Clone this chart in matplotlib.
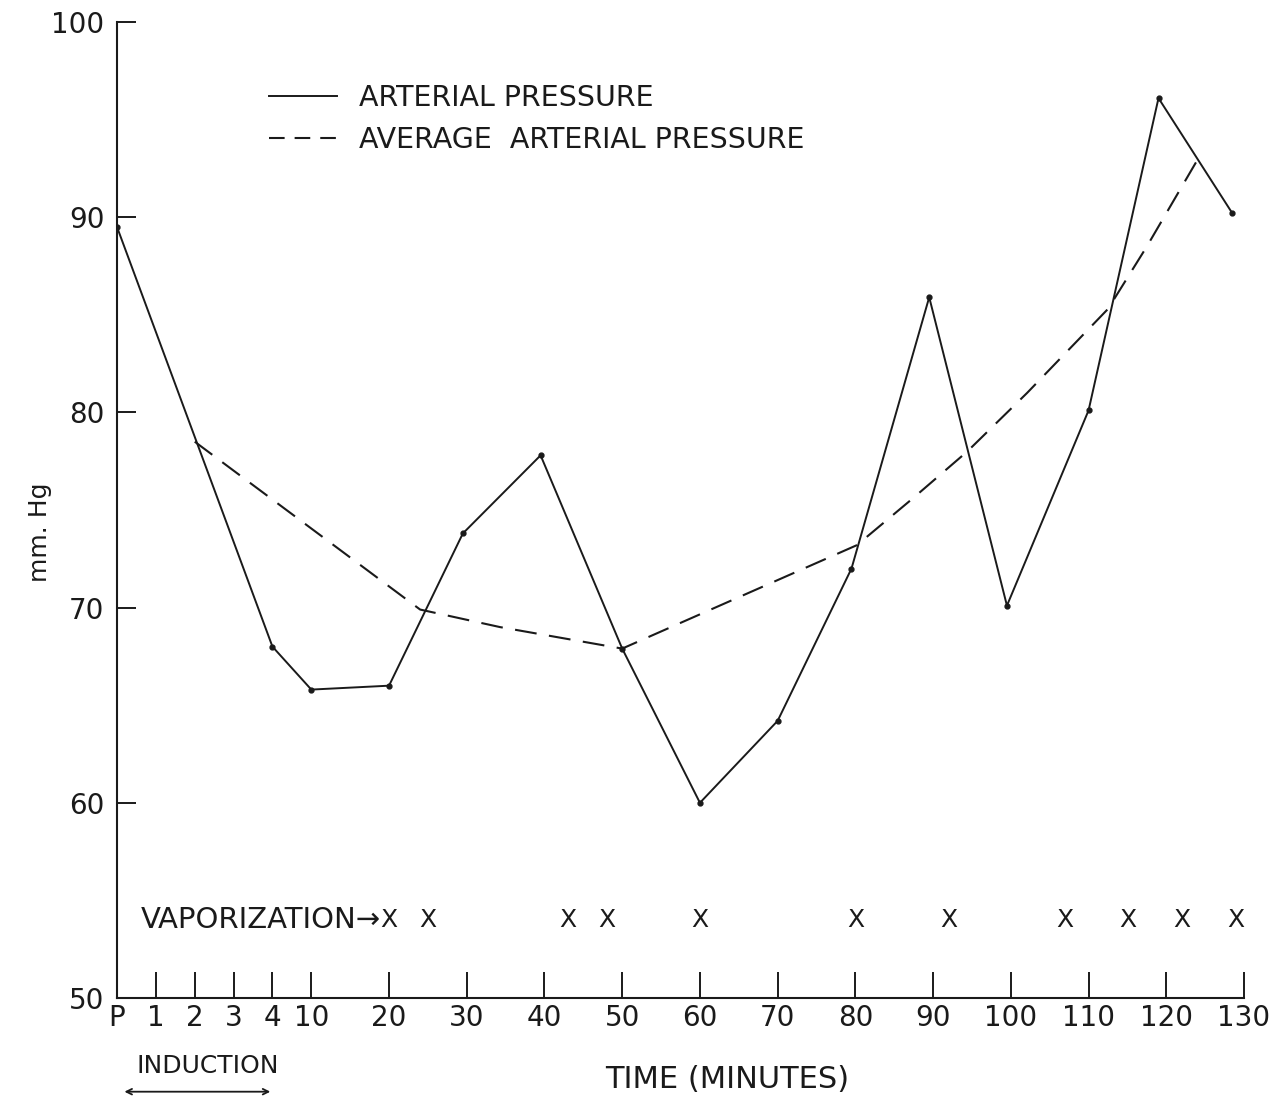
import numpy as np
import matplotlib
matplotlib.use('Agg')
from matplotlib import pyplot as plt

# x axis: P, induction minutes 1-4, then every 10 minutes (uneven spacing)
tick_minutes = [0, 1, 2, 3, 4, 10, 20, 30, 40, 50, 60, 70, 80, 90, 100, 110, 120, 130]
tick_labels = ['P', '1', '2', '3', '4', '10', '20', '30', '40', '50', '60', '70',
               '80', '90', '100', '110', '120', '130']
y_ticks = [50, 60, 70, 80, 90, 100]

# arterial pressure (mm Hg)
pressure_minutes = [0, 4, 10, 20, 29.5, 39.5, 50, 60, 70, 79.5, 89.5, 99.5, 110, 119, 128.5]
pressure = [89.5, 68.0, 65.8, 66.0, 73.8, 77.8, 67.9, 60.0, 64.2, 72.0, 85.9, 70.1, 80.1, 96.1, 90.2]

# average arterial pressure curve
avg_minutes = [2, 24, 34.3, 50, 80.2, 87.4, 94.4, 102.1, 112.5, 117.5, 124.1]
avg_pressure = [78.5, 69.9, 69.0, 67.9, 73.2, 75.6, 78.0, 81.0, 85.3, 88.5, 93.0]

# vaporization marks
vapor_minutes = [20, 25, 43, 48, 60, 80, 92, 107, 115, 122, 129]
vapor_level = 54

tick_pos = [0, 1, 2, 3, 4] + [5 + (m - 10) / 5 for m in tick_minutes[5:]]


def to_pos(m):
    return np.interp(m, tick_minutes, tick_pos)


plt.rcParams['font.family'] = ['DejaVu Sans']
ink = '#1a1a1a'
W, H = 1281, 1103
fig = plt.figure(figsize=(W / 100, H / 100), dpi=100)
ax = fig.add_axes([117 / W, 1 - 998 / H, (1244 - 117) / W, (998 - 22) / H])

ax.plot(to_pos(pressure_minutes), pressure, color=ink, lw=1.4, label='ARTERIAL PRESSURE')
ax.plot(to_pos(pressure_minutes), pressure, 'o', color=ink, ms=3.5)
ax.plot(to_pos(avg_minutes), avg_pressure, color=ink, lw=1.5,
        dashes=(10.5, 6), label='AVERAGE  ARTERIAL PRESSURE')

for m in vapor_minutes:
    ax.text(to_pos(m), vapor_level, 'X', ha='center', va='center', fontsize=18, color=ink)
ax.annotate('VAPORIZATION\u2192', xy=(to_pos(vapor_minutes[0]), vapor_level),
            xytext=(-6, 0), textcoords='offset points', ha='right', va='center',
            fontsize=21, color=ink)

ax.set_xlim(0, 29)
ax.set_ylim(50, 100)
ax.set_xticks(tick_pos)
ax.set_xticklabels(tick_labels)
ax.set_yticks(y_ticks)
ax.tick_params(axis='x', direction='in', length=19, width=1.4, pad=4,
               labelsize=20, colors=ink)
ax.tick_params(axis='y', direction='in', length=14, width=1.4, pad=9,
               labelsize=20, colors=ink)
for s in ['top', 'right']:
    ax.spines[s].set_visible(False)
for s in ['left', 'bottom']:
    ax.spines[s].set_linewidth(1.5)
    ax.spines[s].set_color(ink)

leg = ax.legend(loc='upper left', bbox_to_anchor=((269 - 117) / 1127, 1 - (84 - 22) / 976),
                frameon=False, fontsize=20.5, handlelength=2.4, handletextpad=0.75,
                labelspacing=0.5, borderpad=0, borderaxespad=0)
for t in leg.get_texts():
    t.set_color(ink)
leg.get_lines()[1].set_dashes((7.5, 4.8))

fig.text(40 / W, 1 - 532 / H, 'mm. Hg', rotation=90, ha='center', va='center', fontsize=18, color=ink)
fig.text(727 / W, 1 - 1080 / H, 'TIME (MINUTES)', ha='center', va='center', fontsize=22, color=ink)
fig.text(208 / W, 1 - 1066 / H, 'INDUCTION', ha='center', va='center', fontsize=18, color=ink)
ax.annotate('', xy=(to_pos(4.1), -0.096), xytext=(0.12, -0.096),
            xycoords=('data', 'axes fraction'), textcoords=('data', 'axes fraction'),
            arrowprops=dict(arrowstyle='<->', lw=1.3, color=ink),
            annotation_clip=False)

fig.savefig('out.png', dpi=100)
